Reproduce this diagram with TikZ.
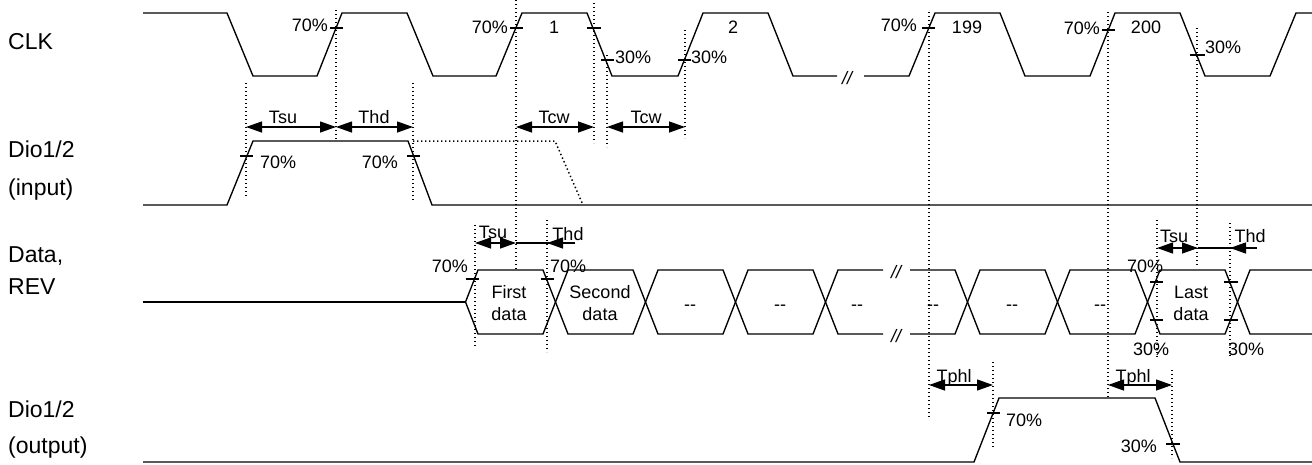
\documentclass[tikz,border=0pt]{standalone}
\usepackage{fontspec}
\setmainfont{Liberation Sans}
\usetikzlibrary{arrows.meta}
\begin{document}
\begin{tikzpicture}[x=1pt,y=-1pt,
  sig/.style={line width=1.35pt},
  dotl/.style={line width=1.5pt, dash pattern=on 1.4pt off 2.6pt},
  dim/.style={line width=1.3pt, {Triangle[length=16pt,width=11pt]}-{Triangle[length=16pt,width=11pt]}},
  dimr/.style={line width=1.3pt, -{Triangle[length=16pt,width=11pt]}},
  tk/.style={line width=1.3pt},
  big/.style={font=\fontsize{23}{27}\selectfont, anchor=base west, inner sep=0pt},
  sm/.style={font=\fontsize{18}{21}\selectfont, inner sep=0pt},
  brk/.style={font=\fontsize{18}{21}\selectfont\itshape, inner sep=0pt}]
\useasboundingbox (0,0) rectangle (1312,464);

% ---------- signal names ----------
\node[big] (lclk)  at (8,49)  {CLK};
\node[big] (ldi1)  at (8,157) {Dio1/2};
\node[big] (ldi2)  at (8,195) {(input)};
\node[big] (ldat1) at (8,262) {Data,};
\node[big] (ldat2) at (8,294) {REV};
\node[big] (ldo1)  at (8,417) {Dio1/2};
\node[big] (ldo2)  at (8,453) {(output)};

% ---------- dotted guide lines ----------
\draw[dotl] (246,83) -- (246,197);
\draw[dotl] (336,10) -- (336,140);
\draw[dotl] (413,83) -- (413,200);
\draw[dotl] (516,0) -- (516,270);
\draw[dotl] (594,3) -- (594,143);
\draw[dotl] (607,55) -- (607,147);
\draw[dotl] (685,30) -- (685,138);
\draw[dotl] (929,12) -- (929,419);
\draw[dotl] (1108,12) -- (1108,398);
\draw[dotl] (1197,28) -- (1197,265);
\draw[dotl] (475,225) -- (475,347);
\draw[dotl] (547,220) -- (547,352);
\draw[dotl] (1157,220) -- (1157,357);
\draw[dotl] (1230,223) -- (1230,357);
\draw[dotl] (993,362) -- (993,448);
\draw[dotl] (1172,370) -- (1172,458);
\draw[dotl] (413,141) -- (555,141) -- (583,205);

% ---------- CLK ----------
\draw[sig] (143,13) -- (227,13) -- (253,76) -- (317,76) -- (342,13) -- (407,13) -- (433,76)
  -- (496,76) -- (522,13) -- (587,13) -- (612,76) -- (678,76) -- (703,13) -- (768,13)
  -- (793,76) -- (837,76);
\node[brk] (brkclk) at (847,78) {//};
\draw[sig] (864,76) -- (909,76) -- (935,13) -- (1000,13) -- (1025,76) -- (1090,76)
  -- (1115,13) -- (1180,13) -- (1205,76) -- (1270,76) -- (1296,13) -- (1312,13);

\draw[tk] (330,28) -- (343,28);
\draw[tk] (510,28) -- (523,28);
\draw[tk] (587,28) -- (601,28);
\draw[tk] (601,60) -- (614,60);
\draw[tk] (678,60) -- (691,60);
\draw[tk] (922,28) -- (935,28);
\draw[tk] (1102,30) -- (1115,30);
\draw[tk] (1190,55) -- (1205,55);

\node[sm, anchor=base east] (c1) at (328,31.5) {70\%};
\node[sm, anchor=base east] (c2) at (508,33.5) {70\%};
\node[sm, anchor=base west] (c3) at (615,63.5) {30\%};
\node[sm, anchor=base west] (c4) at (691,63.5) {30\%};
\node[sm, anchor=base east] (c5) at (917,31.5) {70\%};
\node[sm, anchor=base east] (c6) at (1100,34) {70\%};
\node[sm, anchor=base west] (c7) at (1205,53.5) {30\%};
\node[sm, anchor=base] (n1) at (554,33.5) {1};
\node[sm, anchor=base] (n2) at (733,33.5) {2};
\node[sm, anchor=base] (n199) at (967,33.5) {199};
\node[sm, anchor=base] (n200) at (1146,33.5) {200};

% timing arrows (top)
\coordinate (p1) at (246,127); \coordinate (p2) at (336,127); \coordinate (p3) at (413,127);
\coordinate (p4) at (516,127); \coordinate (p5) at (594,127);
\coordinate (p6) at (607,127); \coordinate (p7) at (685,127);
\draw[dim] (p1) -- (p2);
\draw[dim] (p2) -- (p3);
\draw[dim] (p4) -- (p5);
\draw[dim] (p6) -- (p7);
\node[sm, anchor=base] (tsu1) at (283,123) {Tsu};
\node[sm, anchor=base] (thd1) at (374,123) {Thd};
\node[sm, anchor=base] (tcw1) at (554,123) {Tcw};
\node[sm, anchor=base] (tcw2) at (646,123) {Tcw};

% ---------- Dio1/2 input ----------
\draw[sig] (143,205) -- (227,205) -- (253,141) -- (408,141) -- (432,205) -- (1312,205);
\draw[tk] (240,156) -- (253,156);
\draw[tk] (407,156) -- (420,156);
\node[sm, anchor=base west] (i1) at (260,168) {70\%};
\node[sm, anchor=base east] (i2) at (398,168) {70\%};

% ---------- Data, REV ----------
\draw[sig] (143,302) -- (466,302);
\foreach \a in {478,568,658,748,980,1070,1160}{
  \draw[sig] (\a-12.5,302) -- (\a,270) -- (\a+65,270) -- (\a+77.5,302) -- (\a+65,334) -- (\a,334) -- cycle;
}
\draw[sig] (883,270) -- (838,270) -- (825.5,302) -- (838,334) -- (883,334);
\draw[sig] (910,270) -- (955,270) -- (967.5,302) -- (955,334) -- (910,334);
\draw[sig] (1312,270) -- (1250,270) -- (1237.5,302) -- (1250,334) -- (1312,334);
\node[brk] (brk1) at (896,272) {//};
\node[brk] (brk2) at (896,336) {//};

\node[sm, anchor=base] (fd1) at (509,298) {First};
\node[sm, anchor=base] (fd2) at (509,320) {data};
\node[sm, anchor=base] (sd1) at (600,298) {Second};
\node[sm, anchor=base] (sd2) at (600,320) {data};
\node[sm, anchor=base] (ld1) at (1191,298) {Last};
\node[sm, anchor=base] (ld2) at (1191,320) {data};
\foreach \x/\n in {690/d3,780/d4,857/d5,933/d6,1012/d7,1100/d8}{
  \node[sm, anchor=base] (\n) at (\x,310) {-{}-};
}

\draw[tk] (466,279) -- (479,279);
\draw[tk] (541,279) -- (554,279);
\draw[tk] (1150,282) -- (1163,282);
\draw[tk] (1150,320) -- (1163,320);
\draw[tk] (1224,282) -- (1238,282);
\draw[tk] (1224,320) -- (1238,320);
\node[sm, anchor=base east] (dp1) at (468,272) {70\%};
\node[sm, anchor=base west] (dp2) at (550,272) {70\%};
\node[sm, anchor=base] (dp3) at (1145,272) {70\%};
\node[sm, anchor=base] (dp4) at (1151,355) {30\%};
\node[sm, anchor=base] (dp5) at (1246,355) {30\%};

\coordinate (q1) at (475,243); \coordinate (q2) at (516,243);
\coordinate (q3) at (547,243); \coordinate (q4) at (575,243);
\draw[dim] (q1) -- (q2);
\draw[sig] (q2) -- (q4);
\draw[dimr] (q4) -- (q3);
\node[sm, anchor=base] (tsu2) at (493,238) {Tsu};
\node[sm, anchor=base] (thd2) at (568,240) {Thd};

\coordinate (r1) at (1157,248); \coordinate (r2) at (1198,248);
\coordinate (r3) at (1230,248); \coordinate (r4) at (1257,248);
\draw[dim] (r1) -- (r2);
\draw[sig] (r2) -- (r4);
\draw[dimr] (r4) -- (r3);
\node[sm, anchor=base] (tsu3) at (1174,242) {Tsu};
\node[sm, anchor=base] (thd3) at (1250,242) {Thd};

% ---------- Dio1/2 output ----------
\draw[sig] (143,462) -- (974,462) -- (999,398) -- (1155,398) -- (1180,462) -- (1312,462);
\draw[tk] (987,413) -- (1000,413);
\draw[tk] (1166,444) -- (1180,444);
\node[sm, anchor=base west] (o1) at (1006,426) {70\%};
\node[sm, anchor=base east] (o2) at (1157,452) {30\%};

\coordinate (s1) at (929,385); \coordinate (s2) at (993,385);
\coordinate (s3) at (1108,385); \coordinate (s4) at (1172,385);
\draw[dim] (s1) -- (s2);
\draw[dim] (s3) -- (s4);
\node[sm, anchor=base] (tp1) at (954,382) {Tphl};
\node[sm, anchor=base] (tp2) at (1133,382) {Tphl};
\end{tikzpicture}
\end{document}
